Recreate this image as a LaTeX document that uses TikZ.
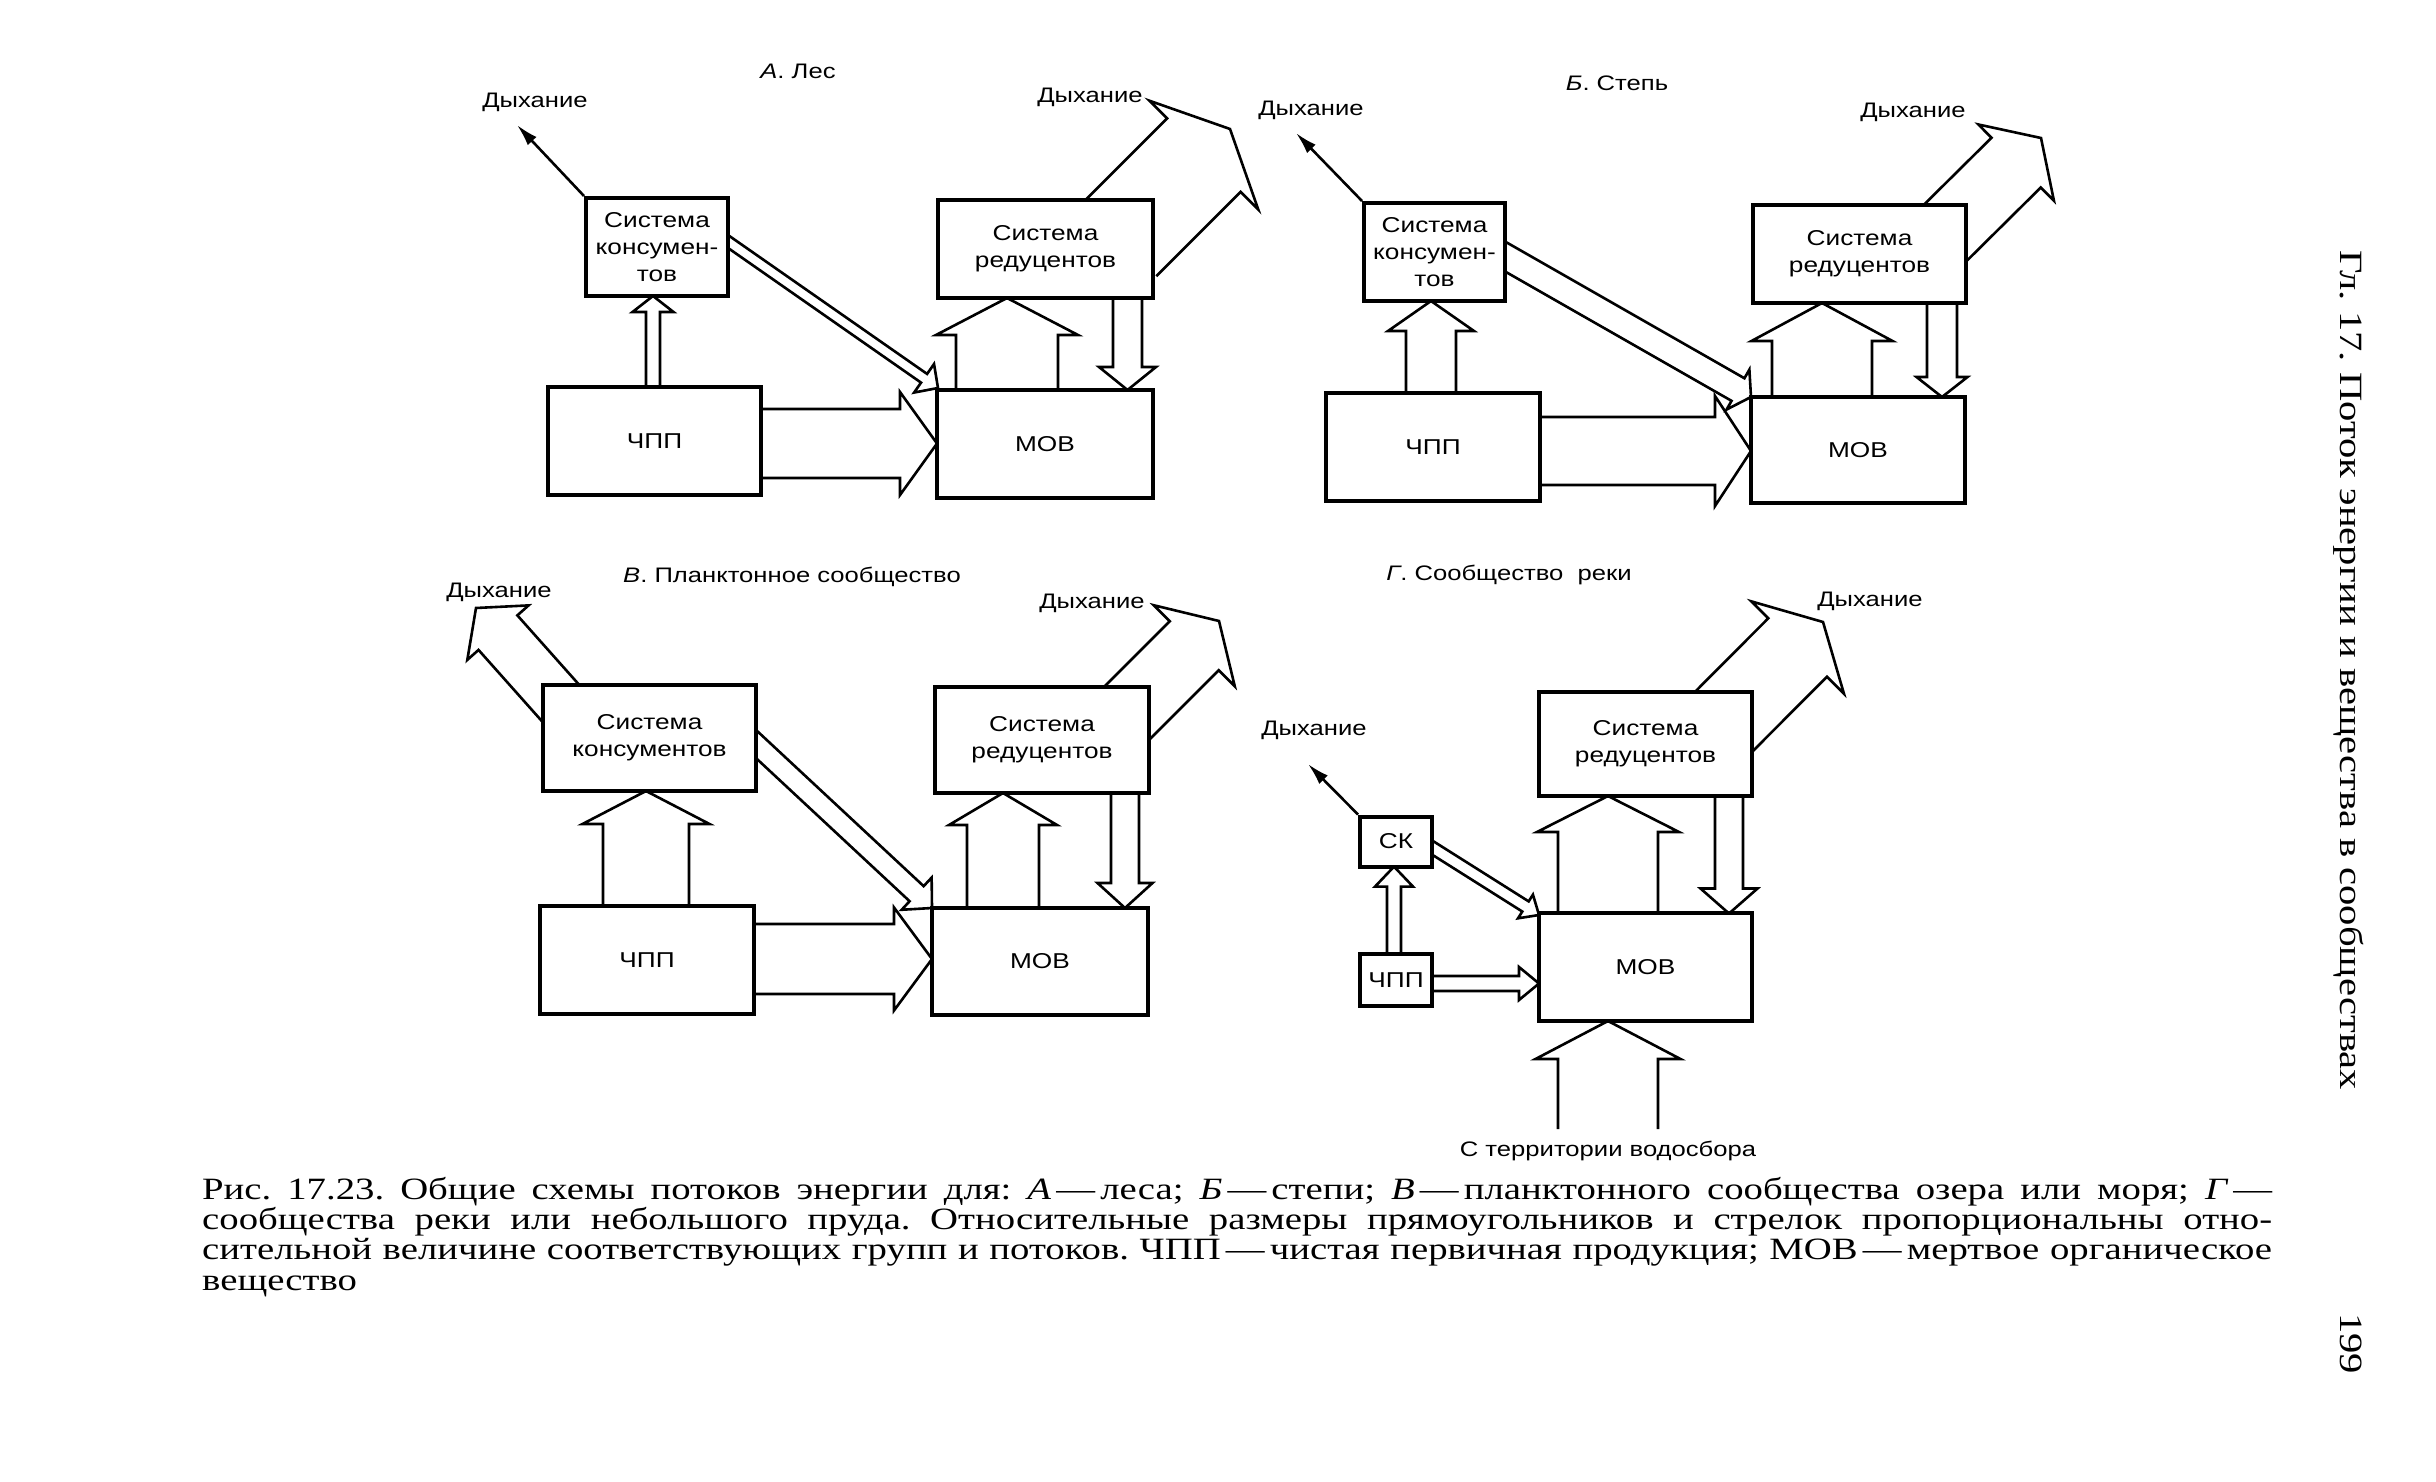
\documentclass[tikz,border=0pt]{standalone}
\usepackage{fontspec}
\setmainfont{Liberation Serif}[FakeStretch=1.25]
\newfontfamily\dsf{Liberation Sans}[FakeStretch=1.22]
\usetikzlibrary{calc,arrows.meta,backgrounds}
\newcommand\harrow[5]{%
  \coordinate (hB) at ($(#2)!#5pt!(#1)$);
  \draw[hol] ($(#1)!#3pt!90:(#2)$) -- ($(hB)!#3pt!90:(#2)$) -- ($(hB)!#4pt!90:(#2)$) -- (#2)
     -- ($(hB)!#4pt!-90:(#2)$) -- ($(hB)!#3pt!-90:(#2)$) -- ($(#1)!#3pt!-90:(#2)$);
}
\frenchspacing
\begin{document}
\begin{tikzpicture}[x=1pt,y=-1pt,
  box/.style={draw, line width=4pt, fill=white, align=center, inner sep=0pt,
    font=\dsf\fontsize{21.5}{27}\selectfont},
  hol/.style={line width=2.6pt, line join=miter},
  resp/.style={line width=2.6pt, -{Latex[length=22pt,width=12pt]}},
  lab/.style={inner sep=0pt, font=\dsf\fontsize{21}{25}\selectfont},
  captext/.style={inner sep=0pt, anchor=base west, font=\fontsize{31}{31}\selectfont},
  headtext/.style={inner sep=0pt, anchor=base west, rotate=-90, font=\fontsize{32.5}{33}\selectfont}]
\useasboundingbox (0,0) rectangle (2436,1482);

% ---------- boxes ----------
% A
\node[box, minimum width=142pt, minimum height=98pt] (consA) at (657,247) {Система\\консумен-\\тов};
\node[box, minimum width=213pt, minimum height=108pt] (chppA) at (654.5,441) {ЧПП};
\node[box, minimum width=216pt, minimum height=108pt] (mobA) at (1045,444) {МОВ};
\node[box, minimum width=215pt, minimum height=98pt] (redA) at (1045.5,249) {Система\\редуцентов};
% B
\node[box, minimum width=141pt, minimum height=98pt] (consB) at (1434.5,252) {Система\\консумен-\\тов};
\node[box, minimum width=214pt, minimum height=108pt] (chppB) at (1433,447) {ЧПП};
\node[box, minimum width=214pt, minimum height=106pt] (mobB) at (1858,450) {МОВ};
\node[box, minimum width=213pt, minimum height=98pt] (redB) at (1859.5,254) {Система\\редуцентов};
% V
\node[box, minimum width=213pt, minimum height=106pt] (consV) at (649.5,738) {Система\\консументов};
\node[box, minimum width=214pt, minimum height=108pt] (chppV) at (647,960) {ЧПП};
\node[box, minimum width=216pt, minimum height=107pt] (mobV) at (1040,961.5) {МОВ};
\node[box, minimum width=214pt, minimum height=106pt] (redV) at (1042,740) {Система\\редуцентов};
% G
\node[box, minimum width=72pt, minimum height=50pt] (skG) at (1396,841.5) {СК};
\node[box, minimum width=72pt, minimum height=52pt] (chppG) at (1396,980) {ЧПП};
\node[box, minimum width=213pt, minimum height=107.5pt] (mobG) at (1645.5,967) {МОВ};
\node[box, minimum width=213pt, minimum height=104pt] (redG) at (1645.5,744) {Система\\редуцентов};

% ---------- labels ----------
\node[lab] (Atitle) at (798,71) {\textit{А}. Лес};
\node[lab] (Ad1) at (535,102) {Дыхание};
\node[lab] (Ad2) at (1090,97) {Дыхание};
\node[lab] (Btitle) at (1617,83) {\textit{Б}. Степь};
\node[lab] (Bd1) at (1311,110) {Дыхание};
\node[lab] (Bd2) at (1913,112) {Дыхание};
\node[lab] (Vtitle) at (792,577) {\textit{В}. Планктонное сообщество};
\node[lab] (Vd1) at (499,592) {Дыхание};
\node[lab] (Vd2) at (1092,603) {Дыхание};
\node[lab] (Gtitle) at (1509,575) {\textit{Г}. Сообщество\ \ реки};
\node[lab] (Gd1) at (1314,730) {Дыхание};
\node[lab] (Gd2) at (1870,601) {Дыхание};
\node[lab] (Gsrc) at (1608,1151) {С\ территории водосбора};

% ---------- caption ----------
\node[captext] (cap1) at (202,1199) {\makebox[2070pt][s]{Рис. 17.23. Общие схемы потоков энергии для: \textit{А}\,—\,леса; \textit{Б}\,—\,степи; \textit{В}\,—\,планктонного сообщества озера или моря; \textit{Г}\,—}};
\node[captext] (cap2) at (202,1229) {\makebox[2070pt][s]{сообщества реки или небольшого пруда. Относительные размеры прямоугольников и стрелок пропорциональны отно-}};
\node[captext] (cap3) at (202,1259) {\makebox[2070pt][s]{сительной величине соответствующих групп и потоков. ЧПП\,—\,чистая первичная продукция; МОВ\,—\,мертвое органическое}};
\node[captext] (cap4) at (202,1290) {вещество};
\node[headtext] (head) at (2340,250) {Гл. 17. Поток энергии и вещества в сообществах};
\node[headtext] (page) at (2340,1313) {199};

% ---------- connectors ----------
\begin{pgfonlayer}{background}
\fill[white] (0,0) rectangle (2436,1482);
% A
\coordinate (Ar1) at (517,125);
\draw[resp] (consA.north west) -- (Ar1);
\coordinate (At1) at (653,441);   \coordinate (Ah1) at (653,296);
\coordinate (At2) at (654,443.5); \coordinate (Ah2) at (937,443.5);
\coordinate (At3) at (690,215);   \coordinate (Ah3) at (938,388);
\coordinate (At4) at (1007,444);  \coordinate (Ah4) at (1007,298);
\coordinate (At5) at (1127.5,249);\coordinate (Ah5) at (1127.5,390);
\coordinate (At6) at (1119.5,239.5); \coordinate (Ah6) at (1230,129);
\harrow{At1}{Ah1}{7}{20.5}{16}
\harrow{At2}{Ah2}{34.5}{51.5}{37}
\harrow{At3}{Ah3}{5.3}{17.4}{17}
\harrow{At4}{Ah4}{51}{71}{37}
\harrow{At5}{Ah5}{14.5}{28.5}{23}
\harrow{At6}{Ah6}{52}{77}{37}
% B
\coordinate (Br1) at (1296,133);
\draw[resp] (consB.north west) -- (Br1);
\coordinate (Bt1) at (1431,447);  \coordinate (Bh1) at (1431,301);
\coordinate (Bt2) at (1433,451);  \coordinate (Bh2) at (1751,451);
\coordinate (Bt3) at (1470,236.5);\coordinate (Bh3) at (1751,397);
\coordinate (Bt4) at (1822,450);  \coordinate (Bh4) at (1822,303);
\coordinate (Bt5) at (1942,254);  \coordinate (Bh5) at (1942,397);
\coordinate (Bt6) at (1934,244);  \coordinate (Bh6) at (2041,138);
\harrow{Bt1}{Bh1}{25}{43}{30}
\harrow{Bt2}{Bh2}{34}{55}{36}
\harrow{Bt3}{Bh3}{13}{23}{15}
\harrow{Bt4}{Bh4}{50}{70.5}{38}
\harrow{Bt5}{Bh5}{15}{25.5}{20}
\harrow{Bt6}{Bh6}{35}{53.7}{35}
% V
\coordinate (Vt0) at (565,708);   \coordinate (Vh0) at (476,608);
\coordinate (Vt1) at (646,960);   \coordinate (Vh1) at (646,791);
\coordinate (Vt2) at (647,959);   \coordinate (Vh2) at (932,959);
\coordinate (Vt3) at (720,710.5); \coordinate (Vh3) at (932,908);
\coordinate (Vt4) at (1003,961);  \coordinate (Vh4) at (1003,793);
\coordinate (Vt5) at (1125,740);  \coordinate (Vh5) at (1125,908);
\coordinate (Vt6) at (1120,720);  \coordinate (Vh6) at (1219,621);
\harrow{Vt0}{Vh0}{26}{41}{33}
\harrow{Vt1}{Vh1}{43}{63.5}{33}
\harrow{Vt2}{Vh2}{35}{51.5}{38}
\harrow{Vt3}{Vh3}{10.3}{22}{21}
\harrow{Vt4}{Vh4}{36}{54}{32}
\harrow{Vt5}{Vh5}{14}{27.5}{25}
\harrow{Vt6}{Vh6}{34.6}{57.3}{35}
% G
\coordinate (Gr1) at (1308,764);
\draw[resp] (skG.north west) -- (Gr1);
\coordinate (Gt1) at (1394,980);  \coordinate (Gh1) at (1394,866.6);
\coordinate (Gt2) at (1396,983.5);\coordinate (Gh2) at (1539,983.5);
\coordinate (Gt3) at (1410,833.6);\coordinate (Gh3) at (1539,915);
\coordinate (Gt4) at (1608,967);  \coordinate (Gh4) at (1608,796);
\coordinate (Gt5) at (1729,744);  \coordinate (Gh5) at (1729,913.5);
\coordinate (Gt6) at (1608,1129); \coordinate (Gh6) at (1608,1021);
\coordinate (Gt7) at (1717.7,727.7); \coordinate (Gh7) at (1823,622);
\harrow{Gt1}{Gh1}{7}{19}{20}
\harrow{Gt2}{Gh2}{7.5}{16.5}{20}
\harrow{Gt3}{Gh3}{6}{14}{16}
\harrow{Gt4}{Gh4}{50}{71}{36}
\harrow{Gt5}{Gh5}{14}{28.5}{25}
\harrow{Gt6}{Gh6}{50}{72.5}{38}
\harrow{Gt7}{Gh7}{41.4}{65.4}{36}
\end{pgfonlayer}
\end{tikzpicture}
\end{document}
